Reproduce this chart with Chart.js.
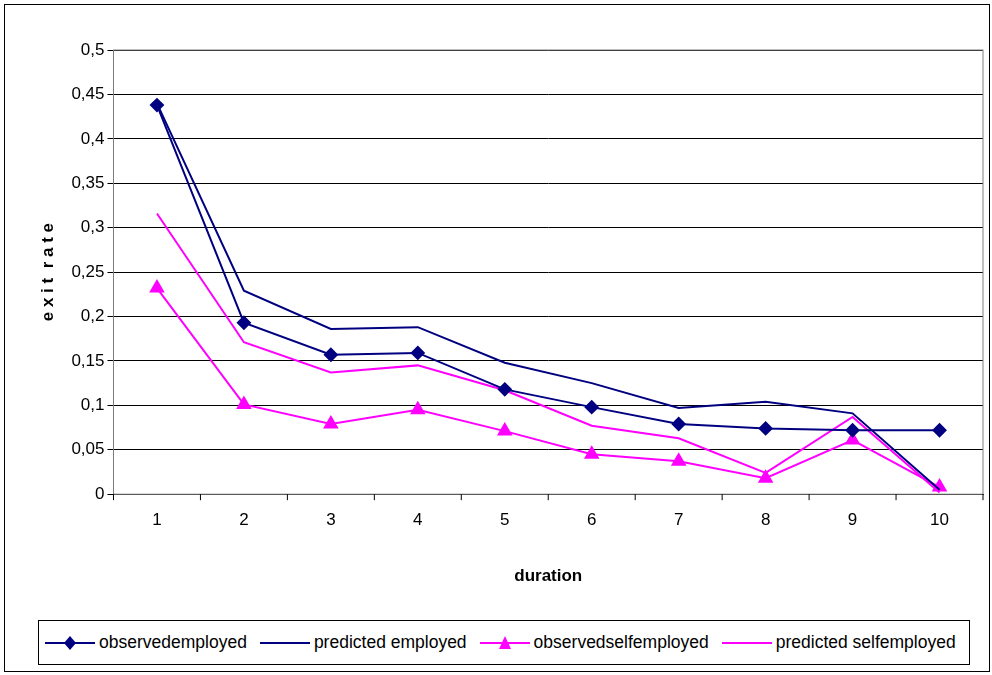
<!DOCTYPE html>
<html><head><meta charset="utf-8">
<script src="https://cdn.jsdelivr.net/npm/chart.js@4"></script>
<style>
body{margin:0;background:#fff;font-family:"Liberation Sans",Arial,sans-serif;}
#frame{position:absolute;left:4px;top:4px;width:986px;height:668px;border:1px solid #000;box-sizing:border-box;}
#wrap{position:absolute;left:10px;top:30px;width:982px;height:561px;}
#legend{position:absolute;left:38px;top:620px;width:932px;height:45px;border:1px solid #000;box-sizing:border-box;display:flex;align-items:center;font-size:17.5px;white-space:nowrap;}
#legend span{display:flex;align-items:center;margin-left:6px;margin-right:7px;}
#legend svg{margin-right:4px;flex:none;}
</style></head><body>
<div id="frame"></div>
<div id="wrap"><canvas id="c"></canvas></div>
<div id="legend">
<span><svg width="50" height="20"><line x1="0" y1="10" x2="50" y2="10" stroke="#000080" stroke-width="2"/><polygon points="25,3 31,10 25,17 19,10" fill="#000080"/></svg>observedemployed</span>
<span><svg width="50" height="20"><line x1="0" y1="10" x2="50" y2="10" stroke="#000080" stroke-width="2"/></svg>predicted employed</span>
<span><svg width="50" height="20"><line x1="0" y1="10" x2="50" y2="10" stroke="#ff00ff" stroke-width="2"/><polygon points="25,3 31,16 19,16" fill="#ff00ff"/></svg>observedselfemployed</span>
<span><svg width="50" height="20"><line x1="0" y1="10" x2="50" y2="10" stroke="#ff00ff" stroke-width="2"/></svg>predicted selfemployed</span>
</div>
<script>
const durations = ['1','2','3','4','5','6','7','8','9','10'];
const observedEmployed = [0.438, 0.193, 0.157, 0.159, 0.118, 0.098, 0.079, 0.074, 0.072, 0.072];
const predictedEmployed = [0.44, 0.229, 0.186, 0.188, 0.148, 0.125, 0.097, 0.104, 0.091, 0.005];
const observedSelf = [0.232, 0.101, 0.079, 0.095, 0.071, 0.045, 0.037, 0.018, 0.061, 0.008];
const predictedSelf = [0.316, 0.171, 0.137, 0.145, 0.117, 0.077, 0.063, 0.024, 0.087, 0.002];

const font = { family: 'Liberation Sans', size: 17 };
new Chart(document.getElementById('c'), {
  type: 'line',
  data: {
    labels: durations,
    datasets: [
      { label: 'observedemployed', data: observedEmployed, borderColor: '#000080', backgroundColor: '#000080', borderWidth: 2, pointStyle: 'rectRot', pointRadius: 6 },
      { label: 'predicted employed', data: predictedEmployed, borderColor: '#000080', borderWidth: 2, pointRadius: 0 },
      { label: 'observedselfemployed', data: observedSelf, borderColor: '#ff00ff', backgroundColor: '#ff00ff', borderWidth: 2, pointStyle: 'triangle', pointRadius: 7 },
      { label: 'predicted selfemployed', data: predictedSelf, borderColor: '#ff00ff', borderWidth: 2, pointRadius: 0 }
    ]
  },
  options: {
    responsive: true, maintainAspectRatio: false, animation: false,
    layout: { padding: { top: 20, right: 2, left: 24 } },
    plugins: { legend: { display: false }, tooltip: { enabled: false } },
    scales: {
      x: {
        offset: true,
        grid: { display: false, color: '#000' },
        border: { color: '#000' },
        ticks: { color: '#000', font: font, padding: 8 },
        title: { display: true, text: 'duration', color: '#000', font: { family: 'Liberation Sans', size: 17, weight: 'bold' }, padding: { top: 28 } }
      },
      y: {
        min: 0, max: 0.5,
        grid: { color: '#000', tickLength: 6 },
        border: { color: '#000' },
        ticks: { stepSize: 0.05, color: '#000', font: font, callback: v => String(Math.round(v * 100) / 100).replace('.', ',') },
        title: { display: true, text: 'e x i t  r a t e', color: '#000', font: { family: 'Liberation Sans', size: 17, weight: 'bold' }, padding: { bottom: 10 } }
      }
    }
  },
  plugins: [{
    id: 'box',
    afterDraw(c) {
      const a = c.chartArea, x = c.ctx;
      x.save(); x.strokeStyle = '#808080'; x.lineWidth = 1;
      x.strokeRect(a.left, a.top, a.right - a.left, a.bottom - a.top);
      x.strokeStyle = '#000'; x.beginPath();
      const s = c.scales.x;
      for (let i = 0; i <= durations.length; i++) {
        const px = s.left + (s.right - s.left) * i / durations.length;
        x.moveTo(px, a.bottom); x.lineTo(px, a.bottom + 6);
      }
      x.stroke(); x.restore();
    }
  }]
});
</script>
</body></html>
